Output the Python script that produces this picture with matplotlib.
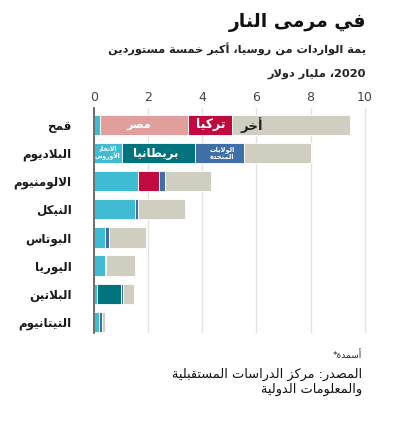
import re
import matplotlib
matplotlib.use("Agg")
import matplotlib.pyplot as plt

# --- data (billion dollars, 2020) ---
categories = ["قمح", "البلاديوم", "الالومنيوم", "النيكل", "البوتاس", "اليوريا", "البلاتين", "التيتانيوم"]
eu = [0.22, 1.02, 1.63, 1.52, 0.42, 0.42, 0.10, 0.20]
egypt = [3.26, 0, 0, 0, 0, 0, 0, 0]
turkey = [1.63, 0, 0.78, 0, 0, 0, 0, 0]
uk = [0, 2.70, 0, 0, 0, 0, 0.91, 0]
us = [0, 1.81, 0.22, 0.10, 0.13, 0.04, 0.06, 0.11]
other = [4.33, 2.47, 1.70, 1.74, 1.38, 1.07, 0.42, 0.09]
ticks = [0, 2, 4, 6, 8, 10]

series = [eu, egypt, turkey, uk, us, other]
colors = ["#3fbcd4", "#e09f9d", "#c10a40", "#00737e", "#3f6fa7", "#d0cec1"]

# --- simple Arabic shaping (presentation forms) + visual order ---
_letters = [("ء", 0xFE80, 1), ("آ", 0xFE81, 2), ("أ", 0xFE83, 2), ("ؤ", 0xFE85, 2),
            ("إ", 0xFE87, 2), ("ئ", 0xFE89, 4), ("ا", 0xFE8D, 2), ("ب", 0xFE8F, 4),
            ("ة", 0xFE93, 2), ("ت", 0xFE95, 4), ("ث", 0xFE99, 4), ("ج", 0xFE9D, 4),
            ("ح", 0xFEA1, 4), ("خ", 0xFEA5, 4), ("د", 0xFEA9, 2), ("ذ", 0xFEAB, 2),
            ("ر", 0xFEAD, 2), ("ز", 0xFEAF, 2), ("س", 0xFEB1, 4), ("ش", 0xFEB5, 4),
            ("ص", 0xFEB9, 4), ("ض", 0xFEBD, 4), ("ط", 0xFEC1, 4), ("ظ", 0xFEC5, 4),
            ("ع", 0xFEC9, 4), ("غ", 0xFECD, 4), ("ف", 0xFED1, 4), ("ق", 0xFED5, 4),
            ("ك", 0xFED9, 4), ("ل", 0xFEDD, 4), ("م", 0xFEE1, 4), ("ن", 0xFEE5, 4),
            ("ه", 0xFEE9, 4), ("و", 0xFEED, 2), ("ى", 0xFEEF, 2), ("ي", 0xFEF1, 4)]
FORMS = {c: (b, n) for c, b, n in _letters}
LAM_ALEF = {"لآ": 0xFEF5, "لأ": 0xFEF7, "لإ": 0xFEF9, "لا": 0xFEFB}
for cp in LAM_ALEF.values():
    FORMS[chr(cp)] = (cp, 2)


def _line(s):
    for pair, cp in LAM_ALEF.items():
        s = s.replace(pair, chr(cp))
    out = []
    for i, c in enumerate(s):
        if c not in FORMS:
            out.append(c)
            continue
        base, n = FORMS[c]
        prev = s[i - 1] if i > 0 else ""
        nxt = s[i + 1] if i + 1 < len(s) else ""
        jp = prev in FORMS and FORMS[prev][1] == 4
        jn = n == 4 and nxt in FORMS
        if n == 1:
            k = 0
        elif jp and jn:
            k = 3
        elif jn:
            k = 2
        elif jp:
            k = 1
        else:
            k = 0
        out.append(chr(base + k))
    tokens = re.findall(r"[0-9.]+|.", "".join(out))
    return "".join(reversed(tokens))


def ar(s):
    return "\n".join(_line(x) for x in s.split("\n"))


plt.rcParams["font.family"] = ["DejaVu Sans"]

fig = plt.figure(figsize=(3.93, 4.32), dpi=100)
ax = fig.add_axes([0.239, 0.229, 0.703, 0.521])

ypos = list(range(len(categories)))
left = [0.0] * len(categories)
for vals, col in zip(series, colors):
    ax.barh(ypos, vals, left=left, height=0.72, color=col, edgecolor="white",
            linewidth=0.6, zorder=3)
    left = [a + b for a, b in zip(left, vals)]

ax.set_xlim(0, 10.2)
ax.set_ylim(7.4, -0.6)
ax.xaxis.tick_top()
ax.set_xticks(ticks)
ax.set_xticklabels([str(t) for t in ticks])
ax.tick_params(axis="x", length=0, pad=3, labelsize=9, labelcolor="#444444")
ax.set_yticks(ypos)
ax.set_yticklabels([ar(c) for c in categories], fontweight="bold", fontsize=8.6)
ax.tick_params(axis="y", length=0, pad=16, labelcolor="#1a1a1a")
ax.grid(axis="x", color="#e3e3e3", linewidth=1, zorder=0)
for s in ["top", "right", "bottom"]:
    ax.spines[s].set_visible(False)
ax.spines["left"].set_color("#555555")
ax.spines["left"].set_linewidth(1.2)
ax.spines["left"].set_zorder(4)

# segment labels
ax.text(eu[0] + egypt[0] / 2 - 0.2, 0, ar("مصر"), color="white", ha="center", va="center",
        fontsize=8, fontweight="bold", zorder=5)
ax.text(eu[0] + egypt[0] + turkey[0] / 2, 0, ar("تركيا"), color="white", ha="center",
        va="center", fontsize=9, fontweight="bold", zorder=5)
ax.text(eu[0] + egypt[0] + turkey[0] + 0.3, 0, ar("أخر"), color="#222222", ha="left",
        va="center", fontsize=9.5, fontweight="bold", zorder=5)
ax.text(eu[1] / 2, 1, ar("الاتحاد\nالأوروبي"), color="white", ha="center", va="center",
        fontsize=4.3, fontweight="bold", linespacing=1.1, zorder=5)
ax.text(eu[1] + uk[1] / 2 - 0.1, 1, ar("بريطانيا"), color="white", ha="center", va="center",
        fontsize=8.5, fontweight="bold", zorder=5)
ax.text(eu[1] + uk[1] + us[1] / 2 + 0.1, 1, ar("الولايات\nالمتحدة"), color="white",
        ha="center", va="center", fontsize=4.8, fontweight="bold", linespacing=1.1, zorder=5)

# titles and notes
xr = 366 / 393
fig.text(xr, 1 - 22 / 432, ar("في مرمى النار"), ha="right", va="center",
         fontsize=13.5, fontweight="bold", color="#111111")
fig.text(xr, 1 - 49 / 432, ar("يمة الواردات من روسيا، أكبر خمسة مستوردين"), ha="right",
         va="center", fontsize=8.2, fontweight="bold", color="#222222")
fig.text(xr, 1 - 74 / 432, ar("2020، مليار دولار"), ha="right", va="center",
         fontsize=8.2, fontweight="bold", color="#222222")
fig.text(362 / 393, 1 - 355 / 432, ar("أسمدة*"), ha="right", va="center",
         fontsize=6.5, color="#222222")
fig.text(362 / 393, 1 - 382 / 432, ar("المصدر: مركز الدراسات المستقبلية\nوالمعلومات الدولية"),
         ha="right", va="center", fontsize=9.3, color="#111111", linespacing=1.25)

fig.savefig("out.png", dpi=100)
